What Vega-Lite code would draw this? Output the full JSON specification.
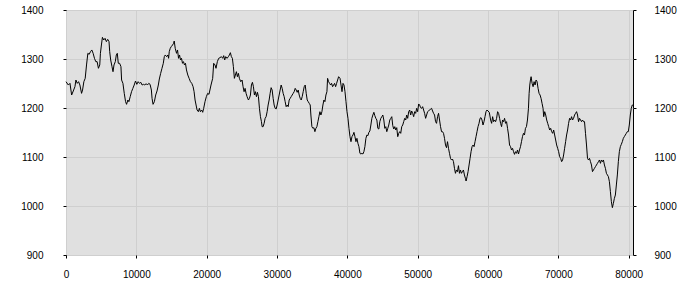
{
  "$schema": "https://vega.github.io/schema/vega-lite/v6.json",
  "width": 567,
  "height": 245,
  "autosize": "none",
  "padding": {"left": 66, "top": 10, "right": 67, "bottom": 45},
  "background": "#ffffff",
  "config": {
    "view": {"fill": "#e0e0e0", "stroke": "#000000", "strokeWidth": 1},
    "axis": {
      "labelFont": "Liberation Sans",
      "labelFontSize": 10,
      "labelColor": "#000000",
      "tickColor": "#000000",
      "tickSize": 3,
      "domain": false,
      "gridColor": "#cfcfcf",
      "gridWidth": 1,
      "labelFlush": false,
      "labelOverlap": false,
      "title": null
    }
  },
  "data": {"values": [
    {"x":0,"y":1253.7},{"x":329,"y":1246.9},{"x":565,"y":1250.3},{"x":800,"y":1226.5},{"x":1035,"y":1234.7},{"x":1271,"y":1243.5},{"x":1412,"y":1257.1},{"x":1600,"y":1250.3},{"x":1788,"y":1253.7},{"x":1977,"y":1246.9},{"x":2212,"y":1229.9},{"x":2353,"y":1236.7},{"x":2541,"y":1253.7},{"x":2729,"y":1260.5},{"x":2918,"y":1287.8},{"x":3106,"y":1311.6},{"x":3294,"y":1309.5},{"x":3482,"y":1315},{"x":3671,"y":1318.4},{"x":3859,"y":1311.6},{"x":4047,"y":1301.4},{"x":4235,"y":1294.6},{"x":4424,"y":1294.6},{"x":4612,"y":1281},{"x":4800,"y":1287.8},{"x":4894,"y":1311.6},{"x":5035,"y":1328.6},{"x":5177,"y":1344.2},{"x":5365,"y":1338.8},{"x":5553,"y":1342.2},{"x":5741,"y":1335.4},{"x":5930,"y":1340.1},{"x":6118,"y":1335.4},{"x":6212,"y":1315},{"x":6353,"y":1298},{"x":6541,"y":1284.4},{"x":6683,"y":1274.1},{"x":6824,"y":1287.8},{"x":7012,"y":1294.6},{"x":7153,"y":1308.2},{"x":7294,"y":1311.6},{"x":7435,"y":1291.2},{"x":7624,"y":1291.2},{"x":7812,"y":1284.4},{"x":7906,"y":1257.1},{"x":8094,"y":1250.3},{"x":8283,"y":1229.9},{"x":8471,"y":1212.9},{"x":8612,"y":1207.5},{"x":8800,"y":1216.3},{"x":8941,"y":1212.9},{"x":9130,"y":1223.1},{"x":9318,"y":1233.3},{"x":9506,"y":1240.1},{"x":9694,"y":1246.9},{"x":9883,"y":1255.1},{"x":10071,"y":1248.3},{"x":10259,"y":1253.7},{"x":10447,"y":1250.3},{"x":10636,"y":1252.4},{"x":10824,"y":1246.9},{"x":11012,"y":1248.3},{"x":11200,"y":1246.9},{"x":11389,"y":1249.7},{"x":11577,"y":1246.9},{"x":11765,"y":1250.3},{"x":11953,"y":1248.3},{"x":12141,"y":1236.7},{"x":12236,"y":1219.7},{"x":12377,"y":1207.5},{"x":12565,"y":1212.9},{"x":12753,"y":1226.5},{"x":12942,"y":1234.7},{"x":13130,"y":1246.9},{"x":13271,"y":1259.2},{"x":13459,"y":1270.7},{"x":13647,"y":1281},{"x":13836,"y":1291.2},{"x":13977,"y":1304.8},{"x":14118,"y":1308.2},{"x":14306,"y":1304.8},{"x":14494,"y":1308.2},{"x":14589,"y":1301.4},{"x":14683,"y":1315},{"x":14824,"y":1321.8},{"x":14965,"y":1325.2},{"x":15153,"y":1328.6},{"x":15295,"y":1332},{"x":15389,"y":1336.7},{"x":15530,"y":1321.8},{"x":15718,"y":1311.6},{"x":15859,"y":1318.4},{"x":16000,"y":1301.4},{"x":16142,"y":1308.2},{"x":16283,"y":1298},{"x":16424,"y":1301.4},{"x":16565,"y":1291.2},{"x":16706,"y":1294.6},{"x":16847,"y":1287.8},{"x":16989,"y":1291.2},{"x":17130,"y":1277.6},{"x":17318,"y":1267.3},{"x":17506,"y":1260.5},{"x":17695,"y":1253.7},{"x":17883,"y":1250.3},{"x":18071,"y":1243.5},{"x":18212,"y":1233.3},{"x":18353,"y":1216.3},{"x":18495,"y":1206.1},{"x":18636,"y":1195.9},{"x":18824,"y":1192.5},{"x":18965,"y":1199.3},{"x":19106,"y":1192.5},{"x":19295,"y":1195.9},{"x":19436,"y":1191.2},{"x":19577,"y":1199.3},{"x":19765,"y":1212.9},{"x":19953,"y":1223.1},{"x":20142,"y":1229.9},{"x":20330,"y":1227.9},
    {"x":20618,"y":1246.9},{"x":20855,"y":1260.5},{"x":20998,"y":1291.2},{"x":21188,"y":1287.8},{"x":21330,"y":1281},{"x":21520,"y":1294.6},{"x":21710,"y":1301.4},{"x":21900,"y":1302.7},{"x":22090,"y":1304.8},{"x":22280,"y":1301.4},{"x":22423,"y":1306.8},{"x":22565,"y":1298},{"x":22708,"y":1304.8},{"x":22898,"y":1301.4},{"x":23088,"y":1304.8},{"x":23230,"y":1308.2},{"x":23373,"y":1312.9},{"x":23515,"y":1304.8},{"x":23658,"y":1301.4},{"x":23800,"y":1284.4},{"x":23943,"y":1260.5},{"x":24085,"y":1267.3},{"x":24228,"y":1274.1},{"x":24370,"y":1263.9},{"x":24513,"y":1270.7},{"x":24655,"y":1260.5},{"x":24845,"y":1253.7},{"x":25035,"y":1257.1},{"x":25178,"y":1243.5},{"x":25320,"y":1233.3},{"x":25463,"y":1240.1},{"x":25605,"y":1229.9},{"x":25748,"y":1223.1},{"x":25938,"y":1216.3},{"x":26080,"y":1219.7},{"x":26223,"y":1226.5},{"x":26365,"y":1246.9},{"x":26508,"y":1252.4},{"x":26650,"y":1243.5},{"x":26793,"y":1226.5},{"x":26935,"y":1233.3},{"x":27078,"y":1223.1},{"x":27220,"y":1232},{"x":27363,"y":1223.1},{"x":27505,"y":1199.3},{"x":27648,"y":1182.3},{"x":27790,"y":1172.1},{"x":27885,"y":1161.9},{"x":28028,"y":1161.9},{"x":28170,"y":1168.7},{"x":28313,"y":1178.9},{"x":28455,"y":1182.3},{"x":28598,"y":1192.5},{"x":28740,"y":1206.1},{"x":28883,"y":1216.3},{"x":29025,"y":1229.9},{"x":29168,"y":1241.5},{"x":29310,"y":1236.7},{"x":29453,"y":1219.7},{"x":29595,"y":1206.1},{"x":29738,"y":1199.3},{"x":29880,"y":1198},{"x":30023,"y":1206.1},{"x":30165,"y":1216.3},{"x":30308,"y":1226.5},{"x":30450,"y":1236.7},{"x":30593,"y":1246.9},{"x":30735,"y":1240.1},{"x":30878,"y":1229.9},{"x":31020,"y":1223.1},{"x":31163,"y":1212.9},{"x":31305,"y":1202.7},{"x":31448,"y":1206.1},{"x":31590,"y":1202.7},{"x":31733,"y":1216.3},{"x":31875,"y":1219.7},{"x":32018,"y":1223.1},{"x":32160,"y":1226.5},{"x":32303,"y":1229.9},{"x":32445,"y":1233.3},{"x":32588,"y":1240.1},{"x":32730,"y":1236.7},{"x":32873,"y":1232},{"x":33015,"y":1236.7},{"x":33158,"y":1226.5},{"x":33300,"y":1219.7},{"x":33443,"y":1216.3},{"x":33585,"y":1223.1},{"x":33728,"y":1233.3},{"x":33870,"y":1243.5},{"x":34013,"y":1246.9},{"x":34155,"y":1229.9},{"x":34298,"y":1216.3},{"x":34440,"y":1212.9},{"x":34583,"y":1209.5},{"x":34725,"y":1206.1},{"x":34820,"y":1185.7},{"x":34963,"y":1161.9},{"x":35105,"y":1158.5},{"x":35248,"y":1159.9},{"x":35390,"y":1151.7},{"x":35533,"y":1158.5},{"x":35675,"y":1161.9},{"x":35818,"y":1172.1},{"x":35960,"y":1182.3},{"x":36103,"y":1192.5},{"x":36245,"y":1185.7},{"x":36388,"y":1192.5},{"x":36530,"y":1206.1},{"x":36673,"y":1216.3},{"x":36815,"y":1212.9},{"x":36958,"y":1226.5},{"x":37100,"y":1233.3},{"x":37195,"y":1260.5},{"x":37338,"y":1253.7},{"x":37480,"y":1250.3},{"x":37623,"y":1246.9},{"x":37765,"y":1250.3},{"x":37908,"y":1243.5},{"x":38050,"y":1246.9},{"x":38193,"y":1250.3},{"x":38335,"y":1243.5},{"x":38478,"y":1250.3},{"x":38620,"y":1257.1},{"x":38763,"y":1263.9},
    {"x":38962,"y":1260.5},{"x":39104,"y":1246.9},{"x":39245,"y":1233.3},{"x":39387,"y":1250.3},{"x":39528,"y":1246.9},{"x":39670,"y":1233.3},{"x":39811,"y":1212.9},{"x":39953,"y":1192.5},{"x":40094,"y":1178.9},{"x":40236,"y":1158.5},{"x":40377,"y":1141.5},{"x":40519,"y":1131.3},{"x":40660,"y":1141.5},{"x":40802,"y":1144.9},{"x":40943,"y":1150.3},{"x":41085,"y":1141.5},{"x":41226,"y":1131.3},{"x":41368,"y":1138.1},{"x":41509,"y":1127.9},{"x":41651,"y":1121.1},{"x":41792,"y":1107.5},{"x":41934,"y":1106.1},{"x":42075,"y":1107.5},{"x":42217,"y":1106.1},{"x":42358,"y":1110.9},{"x":42500,"y":1121.1},{"x":42642,"y":1138.1},{"x":42783,"y":1144.9},{"x":42925,"y":1143.5},{"x":43066,"y":1150.3},{"x":43208,"y":1153.1},{"x":43349,"y":1165.3},{"x":43491,"y":1178.9},{"x":43632,"y":1185.7},{"x":43774,"y":1191.2},{"x":43915,"y":1184.3},{"x":44057,"y":1178.9},{"x":44198,"y":1175.5},{"x":44340,"y":1158.5},{"x":44481,"y":1157.1},{"x":44623,"y":1172.1},{"x":44764,"y":1178.9},{"x":44906,"y":1182.3},{"x":45047,"y":1185.7},{"x":45189,"y":1175.5},{"x":45330,"y":1158.5},{"x":45472,"y":1161.9},{"x":45613,"y":1151.7},{"x":45755,"y":1158.5},{"x":45896,"y":1165.3},{"x":46038,"y":1175.5},{"x":46179,"y":1178.9},{"x":46321,"y":1182.3},{"x":46462,"y":1163.9},{"x":46604,"y":1157.1},{"x":46745,"y":1161.9},{"x":46887,"y":1155.1},{"x":47028,"y":1159.9},{"x":47170,"y":1141.5},{"x":47311,"y":1148.3},{"x":47453,"y":1151.7},{"x":47594,"y":1148.3},{"x":47736,"y":1161.9},{"x":47877,"y":1165.3},{"x":48019,"y":1172.1},{"x":48160,"y":1178.9},{"x":48302,"y":1175.5},{"x":48443,"y":1185.7},{"x":48585,"y":1178.9},{"x":48726,"y":1192.5},{"x":48868,"y":1195.9},{"x":49009,"y":1185.7},{"x":49151,"y":1193.9},{"x":49292,"y":1189.1},{"x":49434,"y":1182.3},{"x":49575,"y":1192.5},{"x":49717,"y":1189.1},{"x":49858,"y":1199.3},{"x":50000,"y":1192.5},{"x":50142,"y":1208.2},{"x":50283,"y":1206.1},{"x":50425,"y":1200.7},{"x":50566,"y":1199.3},{"x":50708,"y":1202.7},{"x":50849,"y":1195.9},{"x":50991,"y":1189.1},{"x":51132,"y":1178.9},{"x":51274,"y":1185.7},{"x":51415,"y":1192.5},{"x":51557,"y":1193.9},{"x":51698,"y":1195.9},{"x":51840,"y":1198},{"x":51981,"y":1199.3},{"x":52123,"y":1193.9},{"x":52264,"y":1189.1},{"x":52406,"y":1185.7},{"x":52547,"y":1172.1},{"x":52689,"y":1168.7},{"x":52830,"y":1182.3},{"x":52972,"y":1189.1},{"x":53113,"y":1175.5},{"x":53255,"y":1161.9},{"x":53396,"y":1151.7},{"x":53538,"y":1151.7},{"x":53679,"y":1148.3},{"x":53821,"y":1138.1},{"x":53962,"y":1124.5},{"x":54104,"y":1119},{"x":54245,"y":1131.3},{"x":54387,"y":1117.7},{"x":54528,"y":1107.5},{"x":54670,"y":1097.3},{"x":54811,"y":1093.9},{"x":54953,"y":1095.9},{"x":55094,"y":1090.5},{"x":55236,"y":1076.9},{"x":55377,"y":1066.7},{"x":55519,"y":1073.5},{"x":55660,"y":1070.1},{"x":55802,"y":1082.3},{"x":55943,"y":1066.7},{"x":56085,"y":1073.5},{"x":56226,"y":1066.7},{"x":56368,"y":1070.1},{"x":56509,"y":1073.5},{"x":56651,"y":1063.3},{"x":56792,"y":1056.5},{"x":56887,"y":1051},{"x":57028,"y":1059.9},{"x":57170,"y":1070.1},{"x":57311,"y":1083.7},{"x":57453,"y":1097.3},{"x":57594,"y":1110.9},{"x":57736,"y":1121.1},{"x":57877,"y":1124.5},{"x":58019,"y":1121.1},{"x":58160,"y":1131.3},{"x":58302,"y":1141.5},{"x":58443,"y":1151.7},{"x":58585,"y":1161.9},{"x":58726,"y":1168.7},{"x":58868,"y":1178.9},{"x":59009,"y":1180.3},{"x":59151,"y":1175.5},{"x":59292,"y":1165.3},{"x":59434,"y":1172.1},{"x":59575,"y":1182.3},{"x":59717,"y":1192.5},{"x":59858,"y":1195.9},{"x":60000,"y":1193.9},{"x":60189,"y":1191.2},
    {"x":60377,"y":1175.5},{"x":60519,"y":1168.7},{"x":60660,"y":1182.3},{"x":60802,"y":1172.1},{"x":60943,"y":1175.5},{"x":61085,"y":1172.1},{"x":61226,"y":1178.9},{"x":61368,"y":1192.5},{"x":61509,"y":1189.1},{"x":61651,"y":1178.9},{"x":61792,"y":1168.7},{"x":61934,"y":1161.9},{"x":62075,"y":1175.5},{"x":62217,"y":1172.1},{"x":62359,"y":1178.9},{"x":62500,"y":1168.7},{"x":62642,"y":1172.1},{"x":62783,"y":1158.5},{"x":62925,"y":1144.9},{"x":63066,"y":1124.5},{"x":63208,"y":1121.1},{"x":63349,"y":1114.3},{"x":63491,"y":1117.7},{"x":63632,"y":1110.9},{"x":63774,"y":1105.4},{"x":63915,"y":1110.9},{"x":64057,"y":1107.5},{"x":64198,"y":1114.3},{"x":64340,"y":1106.1},{"x":64481,"y":1114.3},{"x":64623,"y":1121.1},{"x":64764,"y":1131.3},{"x":64906,"y":1141.5},{"x":65047,"y":1148.3},{"x":65189,"y":1144.9},{"x":65330,"y":1158.5},{"x":65472,"y":1161.9},{"x":65613,"y":1175.5},{"x":65755,"y":1199.3},{"x":65849,"y":1229.9},{"x":65943,"y":1246.9},{"x":66038,"y":1257.1},{"x":66132,"y":1263.9},{"x":66274,"y":1250.3},{"x":66415,"y":1243.5},{"x":66557,"y":1253.7},{"x":66698,"y":1246.9},{"x":66840,"y":1257.1},{"x":66981,"y":1253.7},{"x":67123,"y":1240.1},{"x":67264,"y":1229.9},{"x":67406,"y":1226.5},{"x":67547,"y":1219.7},{"x":67689,"y":1209.5},{"x":67830,"y":1199.3},{"x":67925,"y":1182.3},{"x":68066,"y":1192.5},{"x":68208,"y":1185.7},{"x":68349,"y":1175.5},{"x":68491,"y":1168.7},{"x":68632,"y":1161.9},{"x":68774,"y":1155.1},{"x":68915,"y":1158.5},{"x":69057,"y":1151.7},{"x":69198,"y":1148.3},{"x":69340,"y":1155.1},{"x":69481,"y":1144.9},{"x":69623,"y":1134.7},{"x":69764,"y":1124.5},{"x":69906,"y":1117.7},{"x":70047,"y":1110.9},{"x":70189,"y":1100.7},{"x":70330,"y":1097.3},{"x":70472,"y":1090.5},{"x":70613,"y":1093.9},{"x":70755,"y":1104.1},{"x":70896,"y":1117.7},{"x":71038,"y":1131.3},{"x":71179,"y":1144.9},{"x":71321,"y":1155.1},{"x":71462,"y":1168.7},{"x":71604,"y":1178.9},{"x":71745,"y":1175.5},{"x":71887,"y":1182.3},{"x":72028,"y":1175.5},{"x":72170,"y":1178.9},{"x":72311,"y":1185.7},{"x":72453,"y":1189.1},{"x":72594,"y":1192.5},{"x":72736,"y":1185.7},{"x":72877,"y":1172.1},{"x":73019,"y":1178.9},{"x":73160,"y":1175.5},{"x":73302,"y":1172.1},{"x":73443,"y":1175.5},{"x":73585,"y":1172.1},{"x":73726,"y":1172.1},{"x":73868,"y":1148.3},{"x":74009,"y":1124.5},{"x":74151,"y":1097.3},{"x":74292,"y":1093.9},{"x":74434,"y":1097.3},{"x":74575,"y":1090.5},{"x":74717,"y":1083.7},{"x":74858,"y":1070.1},{"x":75000,"y":1073.5},{"x":75141,"y":1076.9},{"x":75283,"y":1080.3},{"x":75424,"y":1083.7},{"x":75566,"y":1087.1},{"x":75707,"y":1090.5},{"x":75849,"y":1093.9},{"x":75991,"y":1087.1},{"x":76132,"y":1093.9},{"x":76274,"y":1090.5},{"x":76415,"y":1093.9},{"x":76557,"y":1083.7},{"x":76698,"y":1076.9},{"x":76840,"y":1066.7},{"x":76981,"y":1063.3},{"x":77123,"y":1059.9},{"x":77264,"y":1049.7},{"x":77406,"y":1029.3},{"x":77547,"y":1008.8},{"x":77689,"y":996.6},{"x":77830,"y":1005.4},{"x":77972,"y":1015.6},{"x":78113,"y":1022.4},{"x":78255,"y":1042.9},{"x":78396,"y":1063.3},{"x":78538,"y":1090.5},{"x":78679,"y":1110.9},{"x":78821,"y":1121.1},{"x":78962,"y":1125.9},{"x":79104,"y":1131.3},{"x":79245,"y":1138.1},{"x":79387,"y":1141.5},{"x":79528,"y":1144.9},{"x":79670,"y":1148.3},{"x":79811,"y":1151.7},{"x":79953,"y":1151.7},{"x":80094,"y":1165.3},{"x":80236,"y":1185.7},{"x":80377,"y":1199.3},{"x":80519,"y":1206.1},{"x":80613,"y":1206.1}
  ]},
  "layer": [
    {
      "mark": {"type": "line", "color": "#000000", "strokeWidth": 1, "interpolate": "linear"},
      "encoding": {
        "x": {"field": "x", "type": "quantitative",
          "scale": {"domain": [0, 80620], "nice": false, "zero": false},
          "axis": {"orient": "bottom", "values": [0,10000,20000,30000,40000,50000,60000,70000,80000], "format": "d", "grid": true, "labelPadding": 11}},
        "y": {"field": "y", "type": "quantitative",
          "scale": {"domain": [900, 1400], "nice": false, "zero": false},
          "axis": {"orient": "left", "values": [900,1000,1100,1200,1300,1400], "format": "d", "grid": true, "labelPadding": 20}}
      }
    },
    {
      "mark": {"type": "line", "strokeOpacity": 0},
      "encoding": {
        "x": {"field": "x", "type": "quantitative", "scale": {"domain": [0, 80620], "nice": false, "zero": false}},
        "y": {"field": "y", "type": "quantitative",
          "scale": {"domain": [900, 1400], "nice": false, "zero": false},
          "axis": {"orient": "right", "values": [900,1000,1100,1200,1300,1400], "format": "d", "grid": false, "labelPadding": 18}}
      }
    }
  ],
  "resolve": {"axis": {"y": "independent"}}
}
